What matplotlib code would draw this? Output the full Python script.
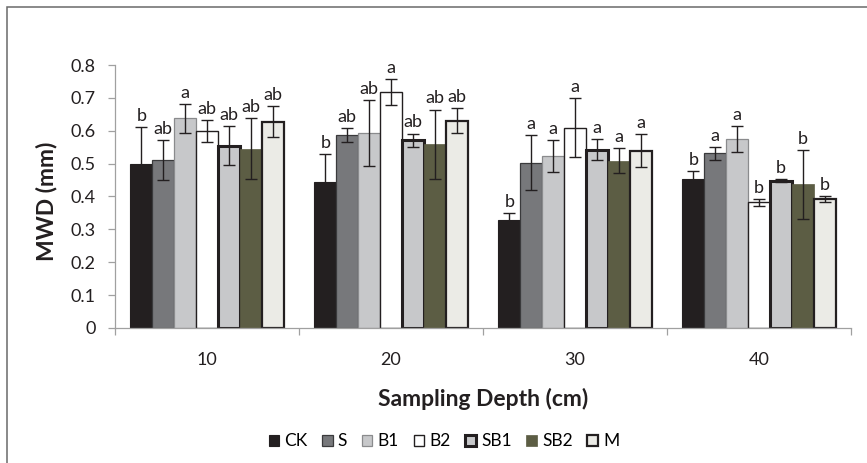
import numpy as np
import matplotlib
matplotlib.use("Agg")
import matplotlib.pyplot as plt
from matplotlib.patches import Rectangle

plt.rcParams['font.family'] = ['Lato', 'DejaVu Sans']

depths = ['10', '20', '30', '40']
treatments = ['CK', 'S', 'B1', 'B2', 'SB1', 'SB2', 'M']

mwd = {
    'CK':  [0.498, 0.443, 0.329, 0.453],
    'S':   [0.511, 0.587, 0.503, 0.531],
    'B1':  [0.638, 0.593, 0.523, 0.575],
    'B2':  [0.600, 0.718, 0.609, 0.382],
    'SB1': [0.555, 0.571, 0.542, 0.448],
    'SB2': [0.545, 0.559, 0.509, 0.437],
    'M':   [0.628, 0.630, 0.539, 0.392],
}
err = {
    'CK':  [0.114, 0.086, 0.020, 0.024],
    'S':   [0.060, 0.020, 0.084, 0.020],
    'B1':  [0.044, 0.100, 0.048, 0.040],
    'B2':  [0.033, 0.040, 0.090, 0.011],
    'SB1': [0.060, 0.020, 0.032, 0.004],
    'SB2': [0.093, 0.105, 0.038, 0.104],
    'M':   [0.047, 0.038, 0.050, 0.010],
}
letters = {
    'CK':  ['b', 'b', 'b', 'b'],
    'S':   ['ab', 'ab', 'a', 'a'],
    'B1':  ['a', 'ab', 'a', 'a'],
    'B2':  ['ab', 'a', 'a', 'b'],
    'SB1': ['ab', 'ab', 'a', 'b'],
    'SB2': ['ab', 'ab', 'a', 'b'],
    'M':   ['ab', 'ab', 'a', 'b'],
}

# fill, edge colour, edge width
styles = {
    'CK':  ('#231f20', '#231f20', 0.8),
    'S':   ('#77787b', '#3a3a3c', 0.9),
    'B1':  ('#c7c8ca', '#8a8b8d', 0.9),
    'B2':  ('#ffffff', '#231f20', 1.0),
    'SB1': ('#c7c8ca', '#231f20', 2.2),
    'SB2': ('#5c5d44', '#5c5d44', 0.5),
    'M':   ('#ebebe6', '#231f20', 1.6),
}

fig = plt.figure(figsize=(8.67, 4.63), dpi=100)
ax = fig.add_axes([0.1326, 0.2916, 0.849, 0.568])

x = np.arange(len(depths))
w = 0.119
for i, t in enumerate(treatments):
    fc, ec, lw = styles[t]
    xs = x + (i - 3) * w
    ax.bar(xs, mwd[t], width=w, color=fc, edgecolor=ec, linewidth=lw,
           label=t, zorder=2)
    ax.errorbar(xs, mwd[t], yerr=err[t], fmt='none', ecolor='#231f20',
                elinewidth=1.0, capsize=4.2, capthick=1.0, zorder=3)
    for xi, v, e, s in zip(xs, mwd[t], err[t], letters[t]):
        ax.text(xi, v + e + 0.01, s, ha='center', va='bottom',
                fontsize=13, color='#231f20')

ax.set_xlim(-0.5, 3.5)
ax.set_ylim(0, 0.8)
ax.set_yticks(np.arange(0, 0.81, 0.1))
ax.set_yticklabels(['0'] + ['%.1f' % v for v in np.arange(0.1, 0.81, 0.1)])
ax.set_xticks(x)
ax.set_xticklabels(depths)
ax.set_xticks(np.arange(-0.5, 3.6, 1), minor=True)
ax.tick_params(axis='x', which='major', length=0, pad=17, labelsize=13,
               colors='#231f20')
ax.tick_params(axis='x', which='minor', length=5, color='#a0a0a0', width=0.9)
ax.tick_params(axis='y', length=5, color='#a0a0a0', width=0.9, labelsize=13,
               labelcolor='#231f20', pad=9)
for s in ['top', 'right']:
    ax.spines[s].set_visible(False)
for s in ['left', 'bottom']:
    ax.spines[s].set_color('#a0a0a0')
    ax.spines[s].set_linewidth(0.9)

ax.set_ylabel('MWD (mm)', fontsize=16.5, fontweight='bold', color='#231f20',
              va='center')
ax.yaxis.set_label_coords(-0.0924, 0.48)
ax.set_xlabel('Sampling Depth (cm)', fontsize=16.5, fontweight='bold',
              color='#231f20', va='center')
ax.xaxis.set_label_coords(0.5, -0.27)

fig.legend(loc='center', bbox_to_anchor=(0.512, 0.047), ncol=7, frameon=False,
           fontsize=12.5, handlelength=0.6, handleheight=0.6,
           handletextpad=0.3, columnspacing=0.85, borderpad=0)

fig.patches.append(Rectangle((0.008, -0.2), 2, 1.185,
                             transform=fig.transFigure, fill=False,
                             edgecolor='#6a6a6a', linewidth=1.1))

fig.savefig('out.png', dpi=100)
